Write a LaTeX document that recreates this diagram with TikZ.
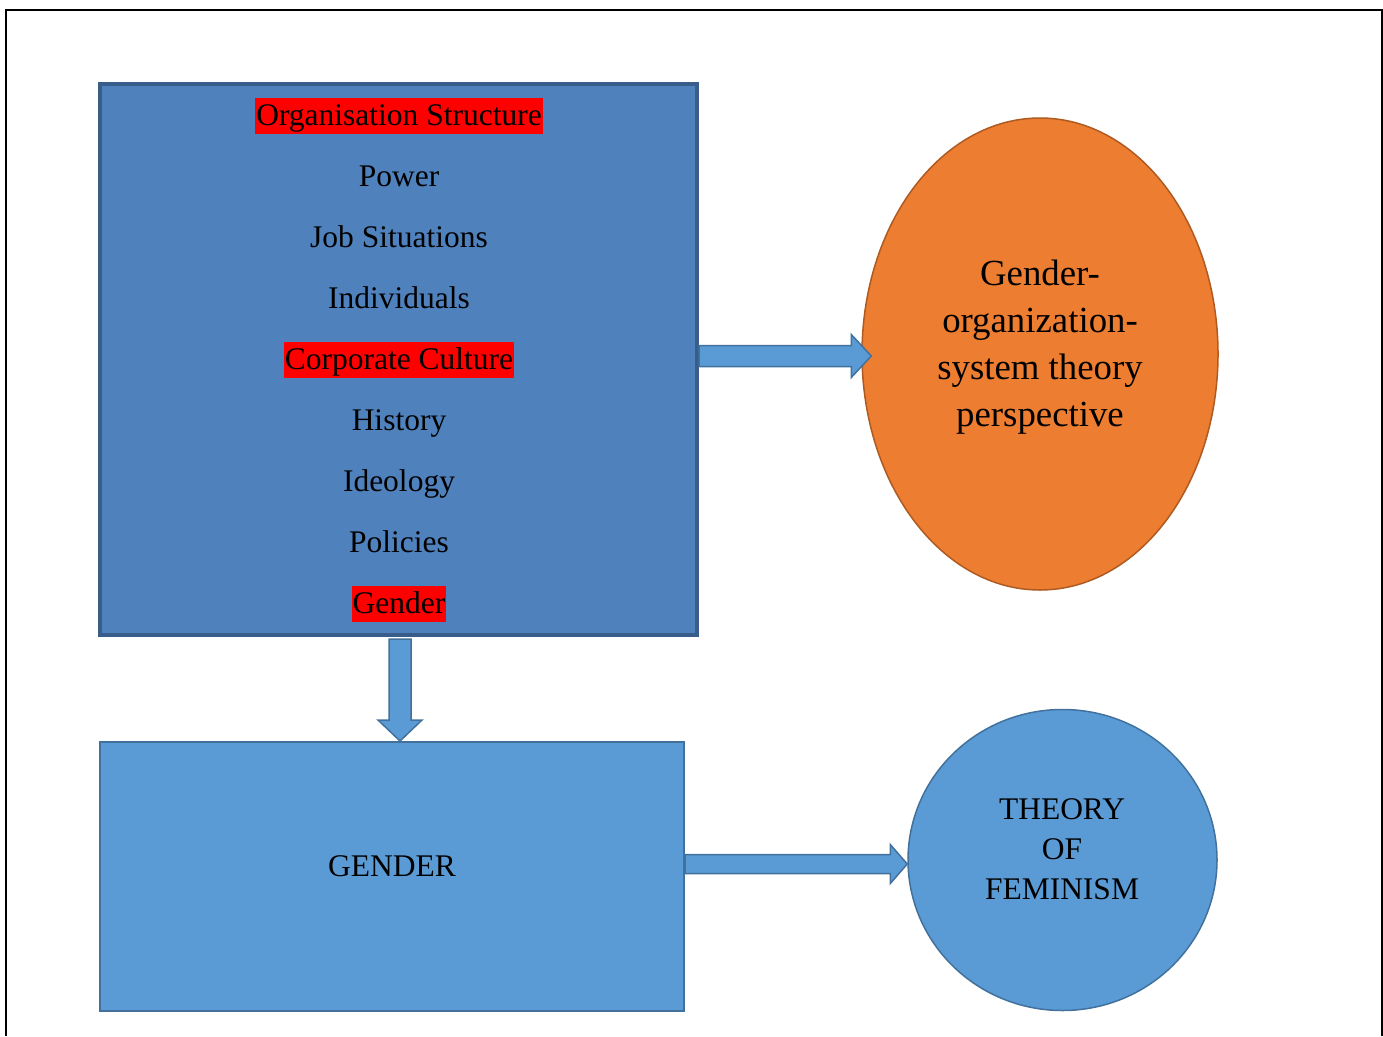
\documentclass[tikz,border=0pt]{standalone}
\usepackage{fontspec}
\setmainfont{Liberation Serif}
\usetikzlibrary{calc,shapes.geometric}
\definecolor{boxfill}{HTML}{4F81BD}
\definecolor{boxline}{HTML}{385D8A}
\definecolor{lightfill}{HTML}{5B9BD5}
\definecolor{lightline}{HTML}{41719C}
\definecolor{orfill}{HTML}{ED7D31}
\definecolor{orline}{HTML}{AE5A21}
\tikzset{
  item/.style={font=\fontsize{31.5}{36}\selectfont, inner xsep=1pt, inner ysep=0pt, text height=27pt, text depth=9pt},
  hl/.style={item, fill=red},
  blockarrow/.style={fill=lightfill, draw=lightline, line width=1.5pt, line join=miter},
}
\begin{document}
\begin{tikzpicture}[x=1pt,y=-1pt]
\useasboundingbox (0,0) rectangle (1383,1036);
% frame
\draw[line width=2pt] (6,1036) -- (6,10) -- (1382,10) -- (1382,1036);
% big box
\node[draw=boxline, fill=boxfill, line width=4pt, minimum width=597pt, minimum height=551pt, inner sep=0pt] (org) at (398.5,359.5) {};
\node[hl]   (l1) at (399,116) {Organisation Structure};
\node[item] (l2) at (399,177) {Power};
\node[item] (l3) at (399,238) {Job Situations};
\node[item] (l4) at (399,299) {Individuals};
\node[hl]   (l5) at (399,360) {Corporate Culture};
\node[item] (l6) at (399,421) {History};
\node[item] (l7) at (399,482) {Ideology};
\node[item] (l8) at (399,543) {Policies};
\node[hl]   (l9) at (399,604) {Gender};
% ellipse
\node[ellipse, draw=orline, fill=orfill, line width=1.5pt, minimum width=356pt, minimum height=472pt, inner sep=0pt] (gos) at (1040,354) {};
\node[font=\fontsize{36.8}{47}\selectfont, align=center] (gostext) at (1040,347) {Gender-\\organization-\\system theory\\perspective};
% bottom box
\node[draw=lightline, fill=lightfill, line width=2pt, minimum width=584pt, minimum height=269pt, inner sep=0pt] (gen) at (392,876.5) {};
\node[font=\fontsize{31.5}{36}\selectfont] (gentext) at (392,866) {GENDER};
% circle
\node[ellipse, draw=lightline, fill=lightfill, line width=1.5pt, minimum width=309pt, minimum height=301pt, inner sep=0pt] (fem) at (1062.5,860) {};
\node[font=\fontsize{31.5}{40}\selectfont, align=center] (femtext) at (1062,849) {THEORY\\OF\\FEMINISM};
% arrow 1: org -> ellipse
\coordinate (t1) at ($(gos.west)+(10,2)$);
\coordinate (s1) at (org.east |- t1);
\draw[blockarrow]
  ($(s1)+(0,-10.5)$) -- ($(t1)+(-20,-10.5)$) -- ($(t1)+(-20,-21.5)$)
  -- (t1) -- ($(t1)+(-20,21.5)$) -- ($(t1)+(-20,10.5)$)
  -- ($(s1)+(0,10.5)$) -- cycle;
% arrow 2: org -> gen
\coordinate (dtip) at ($(gen.north)+(8,0)$);
\coordinate (s2) at ($(org.south)+(1.5,2)$);
\draw[blockarrow]
  ($(s2)+(-11,0)$) -- ($(dtip)+(-11,-21)$) -- ($(dtip)+(-22,-21)$) -- (dtip)
  -- ($(dtip)+(22,-21)$) -- ($(dtip)+(11,-21)$) -- ($(s2)+(11,0)$) -- cycle;
% arrow 3: gen -> fem
\coordinate (t3) at ($(fem.west)+(0,4)$);
\coordinate (s3) at (gen.east |- t3);
\draw[blockarrow]
  ($(s3)+(0,-9.5)$) -- ($(t3)+(-17,-9.5)$) -- ($(t3)+(-17,-19.5)$)
  -- (t3) -- ($(t3)+(-17,19.5)$) -- ($(t3)+(-17,9.5)$)
  -- ($(s3)+(0,9.5)$) -- cycle;
\end{tikzpicture}
\end{document}
